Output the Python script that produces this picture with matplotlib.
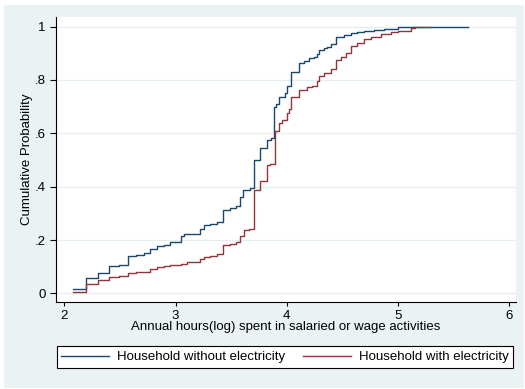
import matplotlib.pyplot as plt
from matplotlib.patches import Rectangle

plt.rcParams['font.family'] = ['Liberation Sans', 'DejaVu Sans']

# ECDF steps: log annual hours and cumulative probability
x_without = [2.081, 2.196, 2.306, 2.400, 2.487, 2.568, 2.646, 2.712, 2.772, 2.832,
             2.892, 2.946, 3.045, 3.072, 3.132, 3.222, 3.258, 3.310, 3.370, 3.430,
             3.490, 3.540, 3.583, 3.607, 3.673, 3.709, 3.757, 3.823, 3.859, 3.889,
             3.907, 3.932, 3.988, 4.004, 4.033, 4.108, 4.153, 4.198, 4.243, 4.268,
             4.288, 4.333, 4.364, 4.394, 4.445, 4.514, 4.574, 4.634, 4.694, 4.784,
             4.874, 4.995, 5.130, 5.631]
p_without = [0.016, 0.059, 0.075, 0.102, 0.106, 0.142, 0.145, 0.152, 0.167, 0.177,
             0.180, 0.191, 0.216, 0.221, 0.223, 0.241, 0.256, 0.260, 0.269, 0.311,
             0.322, 0.326, 0.360, 0.386, 0.394, 0.500, 0.546, 0.575, 0.584, 0.700,
             0.710, 0.737, 0.750, 0.777, 0.831, 0.865, 0.871, 0.881, 0.887, 0.896,
             0.912, 0.921, 0.925, 0.934, 0.960, 0.969, 0.975, 0.980, 0.985, 0.988,
             0.991, 0.997, 1.000, 1.000]

x_with = [2.081, 2.196, 2.306, 2.400, 2.487, 2.568, 2.646, 2.772, 2.832, 2.892,
          2.946, 3.045, 3.102, 3.162, 3.222, 3.258, 3.310, 3.370, 3.430, 3.490,
          3.540, 3.583, 3.613, 3.658, 3.709, 3.763, 3.823, 3.853, 3.892, 3.928,
          3.959, 4.004, 4.018, 4.033, 4.108, 4.184, 4.229, 4.268, 4.288, 4.333,
          4.394, 4.445, 4.484, 4.529, 4.574, 4.634, 4.694, 4.754, 4.844, 4.934,
          4.995, 5.114, 5.150, 5.288]
p_with = [0.004, 0.037, 0.050, 0.062, 0.066, 0.075, 0.079, 0.091, 0.099, 0.102,
          0.105, 0.112, 0.116, 0.118, 0.129, 0.137, 0.140, 0.146, 0.180, 0.187,
          0.193, 0.215, 0.237, 0.241, 0.387, 0.422, 0.481, 0.485, 0.610, 0.640,
          0.650, 0.675, 0.690, 0.735, 0.762, 0.772, 0.777, 0.797, 0.815, 0.825,
          0.840, 0.875, 0.887, 0.900, 0.927, 0.940, 0.952, 0.962, 0.971, 0.979,
          0.985, 0.994, 1.000, 1.000]

x_ticks = [2, 3, 4, 5, 6]
y_ticks = [0, 0.2, 0.4, 0.6, 0.8, 1]
y_tick_labels = ['0', '.2', '.4', '.6', '.8', '1']

navy = '#1A476F'
maroon = '#90353B'
bg = '#EAF2F3'
fs = 9.5

fig = plt.figure(figsize=(5.25, 3.89), dpi=100, facecolor='white')
# light graph region with a thin white margin, Stata style
fig.patches.append(Rectangle((4 / 525, 1 / 389), 520 / 525, 383 / 389,
                             transform=fig.transFigure, facecolor=bg,
                             edgecolor='none', zorder=-10))

ax = fig.add_axes([56 / 525, 1 - 301.7 / 389, 460 / 525, 284.4 / 389])
ax.set_facecolor('white')

ax.step(x_without, p_without, where='post', color=navy, lw=1.0,
        label='Household without electricity')
ax.step(x_with, p_with, where='post', color=maroon, lw=1.0,
        label='Household with electricity')

ax.set_xlim(1.925, 6.06)
ax.set_ylim(-0.031, 1.035)
ax.set_xticks(x_ticks)
ax.set_yticks(y_ticks)
ax.set_yticklabels(y_tick_labels)
ax.grid(axis='y', color='#E4EEEF', lw=0.9)
ax.set_axisbelow(True)

for s in ['top', 'right']:
    ax.spines[s].set_visible(False)
for s in ['left', 'bottom']:
    ax.spines[s].set_color('black')
    ax.spines[s].set_linewidth(0.8)

ax.tick_params(axis='x', length=3, width=0.8, pad=3, labelsize=fs)
ax.tick_params(axis='y', length=4.3, width=0.8, pad=3, labelsize=fs)

ax.set_xlabel('Annual hours(log) spent in salaried or wage activities',
              fontsize=fs, labelpad=-0.5)
ax.set_ylabel('Cumulative Probability', fontsize=fs, labelpad=1)

leg = fig.legend(loc='center', bbox_to_anchor=(285 / 525, 1 - 357 / 389),
                 ncol=2, fontsize=fs, frameon=True, fancybox=False,
                 edgecolor='black', framealpha=1, handlelength=3.6,
                 handletextpad=0.6, columnspacing=1.4, borderpad=0.35,
                 borderaxespad=0)
leg.get_frame().set_linewidth(0.8)

fig.savefig('out.png', dpi=100, facecolor='white')
